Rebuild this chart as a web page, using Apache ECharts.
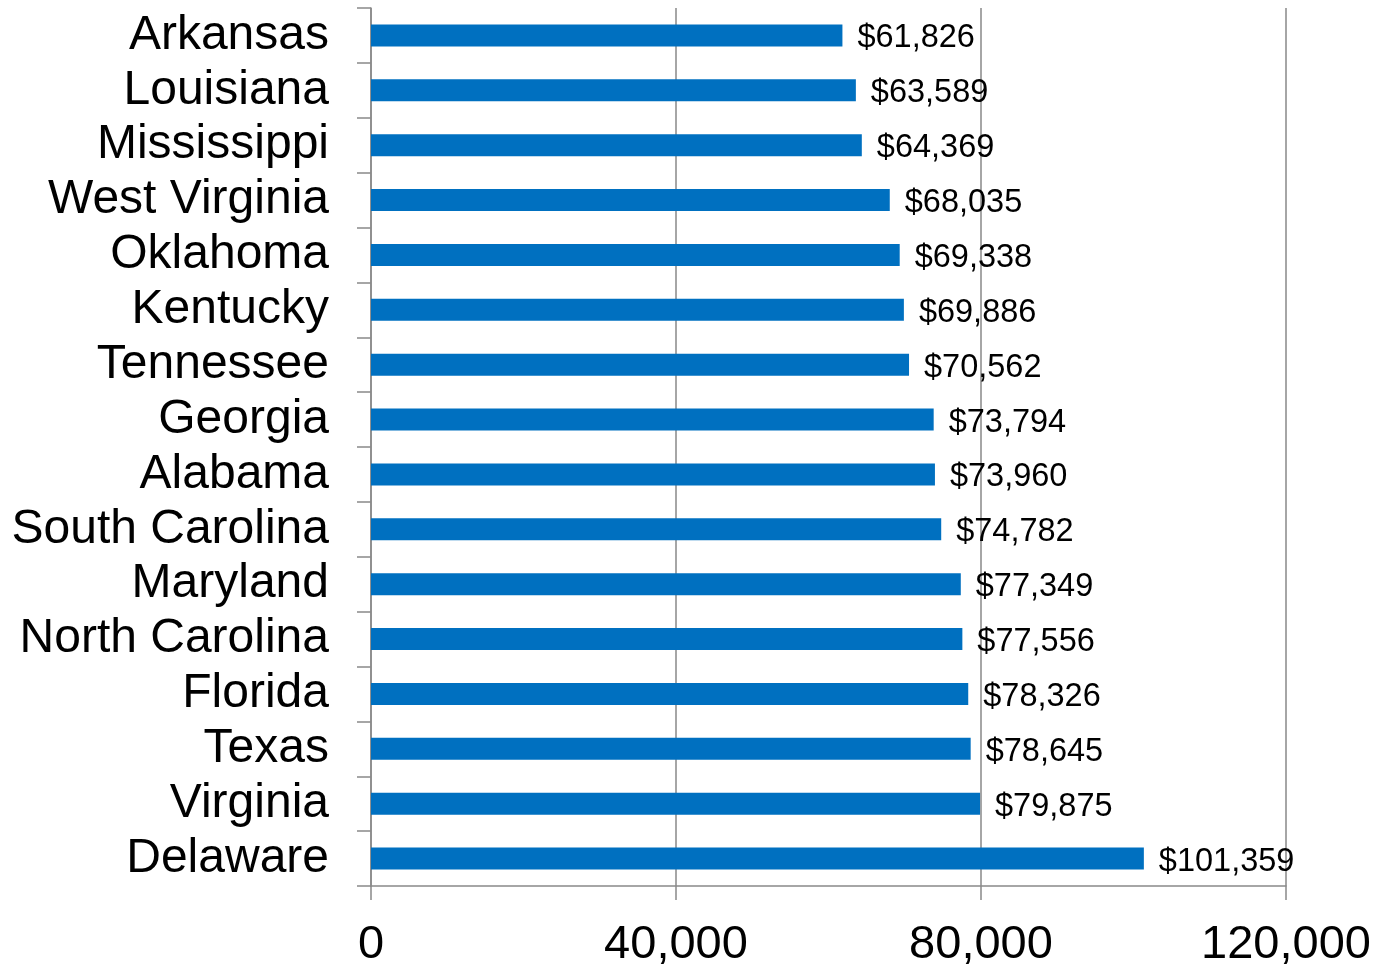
<!DOCTYPE html>
<html>
<head>
<meta charset="utf-8">
<script src="https://cdn.jsdelivr.net/npm/echarts@6/dist/echarts.min.js"></script>
<style>
html,body{margin:0;padding:0;background:#fff;}
#chart{width:1387px;height:966px;}
</style>
</head>
<body>
<div id="chart"></div>
<script>
const states = ["Arkansas","Louisiana","Mississippi","West Virginia","Oklahoma","Kentucky","Tennessee","Georgia","Alabama","South Carolina","Maryland","North Carolina","Florida","Texas","Virginia","Delaware"];
const values = [61826,63589,64369,68035,69338,69886,70562,73794,73960,74782,77349,77556,78326,78645,79875,101359];
const xTicks = [0,40000,80000,120000];

const FONT = "'Liberation Sans', Arial, sans-serif";
const GRAY = "#898989";
function fmtNum(v){ return String(v).replace(/\B(?=(\d{3})+(?!\d))/g, ","); }

const chart = echarts.init(document.getElementById('chart'), null, {renderer:'canvas'});
chart.setOption({
  animation:false,
  backgroundColor:'#ffffff',
  grid:{left:371, right:101, top:8, bottom:80, containLabel:false, outerBoundsMode:'none'},
  xAxis:{
    type:'value',
    min:xTicks[0], max:xTicks[xTicks.length-1], interval:xTicks[1]-xTicks[0],
    axisLine:{show:true, lineStyle:{color:GRAY, width:1.5}},
    axisTick:{show:true, length:14, lineStyle:{color:GRAY, width:1.5}},
    splitLine:{show:true, lineStyle:{color:GRAY, width:1.5}},
    axisLabel:{color:'#000', fontFamily:FONT, fontSize:47, margin:36,
      formatter:function(v){ return fmtNum(v); }}
  },
  yAxis:{
    type:'category',
    data:states,
    inverse:true,
    axisLine:{show:true, lineStyle:{color:GRAY, width:1.5}},
    axisTick:{show:true, interval:0, length:14, alignWithLabel:false, lineStyle:{color:GRAY, width:1.5}},
    axisLabel:{interval:0, color:'#000', fontFamily:FONT, fontSize:48, margin:42, padding:[8,0,0,0]}
  },
  series:[{
    type:'bar',
    data:values,
    barWidth:22,
    itemStyle:{color:'#0070C0'},
    label:{show:true, position:'right', distance:15, offset:[0,3], color:'#000', fontFamily:FONT, fontSize:32.5,
      formatter:function(p){ return '$' + fmtNum(p.value); }}
  }]
});
</script>
</body>
</html>
